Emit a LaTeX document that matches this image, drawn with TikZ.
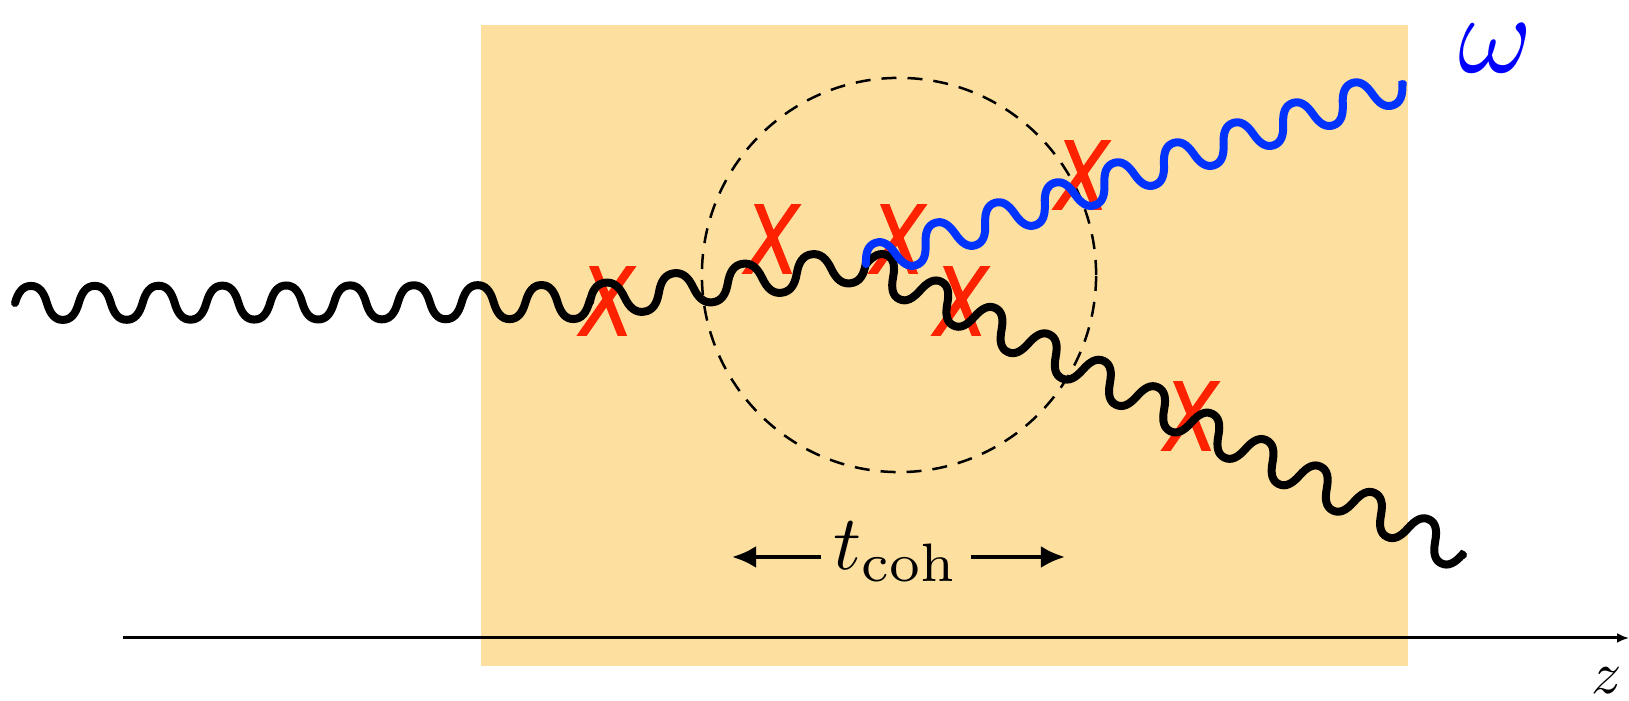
\documentclass[tikz,border=0pt]{standalone}
\usepackage{fontspec}
\newfontfamily\crossfont[FakeBold=2]{Liberation Sans}
\usetikzlibrary{decorations,arrows.meta}

\definecolor{medium}{RGB}{253,223,160}
\definecolor{hitred}{RGB}{255,34,0}
\definecolor{photonblue}{RGB}{0,51,255}

% whole wave periods, stretched to fit the segment
\pgfdeclaredecoration{photonwave}{initial}{
  \state{initial}[width=0pt, next state=wave, persistent precomputation={
      \pgfmathsetmacro\wavecount{max(1,round(\pgfdecoratedinputsegmentlength/\pgfdecorationsegmentlength))}
      \pgfmathsetlength\pgfdecorationsegmentlength{\pgfdecoratedinputsegmentlength/\wavecount-0.02pt}
    }]{}
  \state{wave}[width=\pgfdecorationsegmentlength]{
    \pgfpathcurveto{\pgfpoint{0.05\pgfdecorationsegmentlength}{0.65\pgfdecorationsegmentamplitude}}
                   {\pgfpoint{0.125\pgfdecorationsegmentlength}{\pgfdecorationsegmentamplitude}}
                   {\pgfpoint{0.25\pgfdecorationsegmentlength}{\pgfdecorationsegmentamplitude}}
    \pgfpathcurveto{\pgfpoint{0.375\pgfdecorationsegmentlength}{\pgfdecorationsegmentamplitude}}
                   {\pgfpoint{0.45\pgfdecorationsegmentlength}{0.65\pgfdecorationsegmentamplitude}}
                   {\pgfpoint{0.5\pgfdecorationsegmentlength}{0pt}}
    \pgfpathcurveto{\pgfpoint{0.55\pgfdecorationsegmentlength}{-0.65\pgfdecorationsegmentamplitude}}
                   {\pgfpoint{0.625\pgfdecorationsegmentlength}{-\pgfdecorationsegmentamplitude}}
                   {\pgfpoint{0.75\pgfdecorationsegmentlength}{-\pgfdecorationsegmentamplitude}}
    \pgfpathcurveto{\pgfpoint{0.875\pgfdecorationsegmentlength}{-\pgfdecorationsegmentamplitude}}
                   {\pgfpoint{0.95\pgfdecorationsegmentlength}{-0.65\pgfdecorationsegmentamplitude}}
                   {\pgfpoint{\pgfdecorationsegmentlength}{0pt}}
  }
  \state{final}{\pgfpathlineto{\pgfpointdecoratedpathlast}}
}

\tikzset{
  photon/.style={line width=0.08cm, line cap=round, decorate,
    decoration={photonwave, segment length=0.63cm, amplitude=0.17cm}},
  hit/.style={text=hitred, inner sep=0pt,
    font=\crossfont\itshape\fontsize{28}{28}\selectfont},
  cohzone/.style={draw, circle, line width=0.025cm,
    dash pattern=on 0.15cm off 0.11cm, minimum size=3.94cm},
  span/.style={line width=0.04cm, -{Latex[length=0.24cm,width=0.22cm]}},
}

\begin{document}
\begin{tikzpicture}[x=0.01cm,y=0.01cm]
  \useasboundingbox (0,0) rectangle (1629,701);

  % medium
  \fill[medium] (481,35) rectangle (1408,676);

  % z axis
  \coordinate (zstart) at (123,63);
  \coordinate (zend) at (1629,63);
  \draw[line width=0.03cm,-{Latex[length=0.12cm,width=0.1cm]}] (zstart) -- (zend);
  \node[inner sep=0pt] (zlab) at (1607,20) {\scalebox{1.7}{$z$}};

  % coherence region
  \node[cohzone] (coh) at (899,426) {};
  \node (tcoh) at (896,149) {\scalebox{2.2}{$t_{\mathrm{coh}}$}};
  \coordinate (tl) at (732,144);
  \coordinate (tr) at (1065,144);
  \draw[span] (tcoh.west |- tl) -- (tl);
  \draw[span] (tcoh.east |- tr) -- (tr);

  % scatterings
  \node[hit] (x1) at (606,400) {\scalebox{0.8}[1]{X}};
  \node[hit] (x2) at (771,462) {\scalebox{0.8}[1]{X}};
  \node[hit] (x3) at (897,462) {\scalebox{0.8}[1]{X}};
  \node[hit] (x4) at (960,400) {\scalebox{0.8}[1]{X}};
  \node[hit] (x5) at (1081,526) {\scalebox{0.8}[1]{X}};
  \node[hit] (x6) at (1190,285) {\scalebox{0.8}[1]{X}};

  % photon lines
  \coordinate (in) at (15,398);
  \coordinate (v1) at (590,399);
  \coordinate (v2) at (866,437);
  \coordinate (outb) at (1463,146);
  \coordinate (outw) at (1403,617);
  \draw[photon] (in) -- (v1);
  \draw[photon] (v1) -- (v2);
  \draw[photon] (v2) -- (outb);
  \draw[photon, photonblue] (v2) -- (outw);

  % emitted photon
  \node[text=blue, inner sep=0pt] (omega) at (1496,653) {\scalebox{3.2}{$\omega$}};
\end{tikzpicture}
\end{document}
